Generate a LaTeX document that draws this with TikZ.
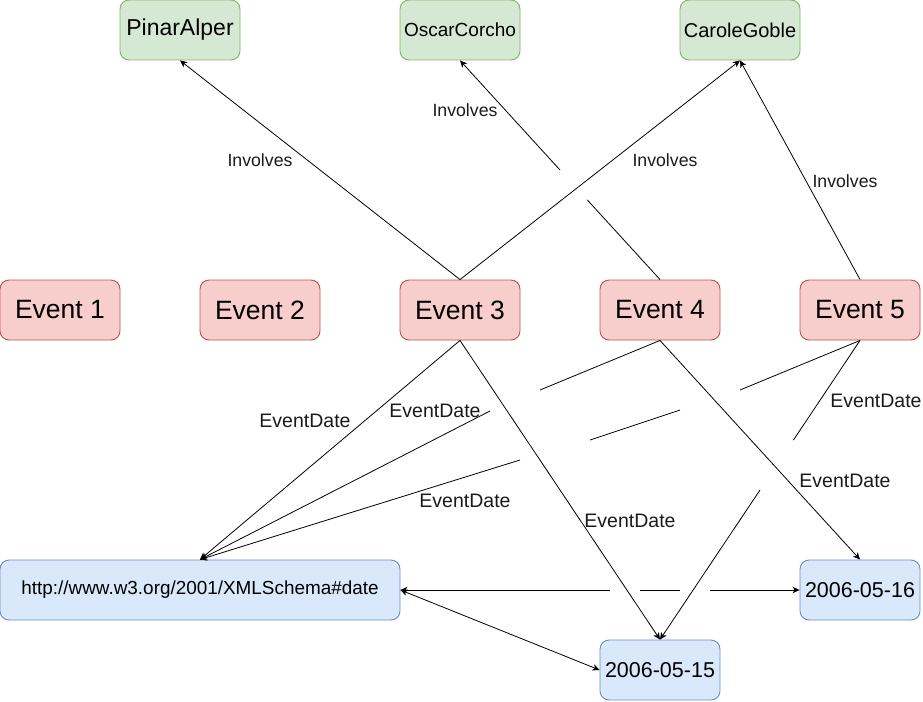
\documentclass[tikz,border=0pt]{standalone}
\usepackage{fontspec}
\setmainfont{Liberation Sans}
\usetikzlibrary{arrows.meta,calc}
\definecolor{gfill}{HTML}{D5E8D4}
\definecolor{gline}{HTML}{82B366}
\definecolor{rfill}{HTML}{F8CECC}
\definecolor{rline}{HTML}{B85450}
\definecolor{bfill}{HTML}{DAE8FC}
\definecolor{bline}{HTML}{6C8EBF}
\definecolor{txt}{HTML}{1A1A1A}
\begin{document}
\begin{tikzpicture}[x=1pt,y=-1pt,
  box/.style={rectangle, rounded corners=9pt, minimum width=120pt, minimum height=60pt, inner sep=0pt, line width=0.9pt, anchor=center, text=black},
  person/.style={box, fill=gfill, draw=gline},
  eventbox/.style={box, fill=rfill, draw=rline, font=\fontsize{26.5}{30}\selectfont},
  datebox/.style={box, fill=bfill, draw=bline},
  lbl/.style={font=\fontsize{19.5}{23}\selectfont, inner sep=0pt, text=txt},
  invl/.style={font=\fontsize{17.7}{21}\selectfont, inner sep=0pt, text=txt},
  edgeline/.style={line width=0.8pt},
  arr/.style={edgeline, -{Stealth[length=7pt,width=6.5pt,inset=2pt]}},
  biarr/.style={edgeline, {Stealth[length=7pt,width=6.5pt,inset=2pt]}-{Stealth[length=7pt,width=6.5pt,inset=2pt]}},
  larr/.style={edgeline, {Stealth[length=7pt,width=6.5pt,inset=2pt]}-}
]
\useasboundingbox (0,0) rectangle (923,701);

% people
\node[person, font=\fontsize{23}{27}\selectfont] (pa) at (180,30) {PinarAlper};
\node[person, font=\fontsize{19}{23}\selectfont] (oc) at (460,30) {OscarCorcho};
\node[person, font=\fontsize{20}{24}\selectfont] (cg) at (740,30) {CaroleGoble};

% events
\node[eventbox] (e1) at (60,310) {Event 1};
\node[eventbox] (e2) at (260,310) {Event 2};
\node[eventbox] (e3) at (460,310) {Event 3};
\node[eventbox] (e4) at (660,310) {Event 4};
\node[eventbox] (e5) at (860,310) {Event 5};

% dates
\node[datebox, minimum width=400pt, font=\fontsize{18.9}{23}\selectfont] (xml) at (200,590) {http://www.w3.org/2001/XMLSchema\#date};
\node[datebox, font=\fontsize{21.5}{25}\selectfont] (d16) at (860,590) {2006-05-16};
\node[datebox, font=\fontsize{21.5}{25}\selectfont] (d15) at (660,670) {2006-05-15};

% bend / gap coordinates
\coordinate (g4a) at (540,390);
\coordinate (g4b) at (490,411);
\coordinate (g5a) at (740,390);
\coordinate (g5b) at (680,410);
\coordinate (g5c) at (590,440);
\coordinate (g5d) at (520,460);

% Involves edges
\draw[arr] (e3.north) -- (pa.south);
\draw[edgeline] (e4.north) -- ($(e4.north)!0.364!(oc.south)$);
\draw[arr] ($(e4.north)!0.5!(oc.south)$) -- (oc.south);
\draw[arr] (e3.north) -- (cg.south);
\draw[arr] (e5.north) -- (cg.south);

% EventDate edges
\draw[arr] (e3.south) -- (xml.north);
\draw[edgeline] (e4.south) -- (g4a);
\draw[arr] (g4b) -- (xml.north);
\draw[edgeline] (e5.south) -- (g5a);
\draw[edgeline] (g5b) -- (g5c);
\draw[arr] (g5d) -- (xml.north);
\draw[arr] (e3.south) -- (d15.north);
\draw[edgeline] (e5.south) -- ($(e5.south)!0.333!(d15.north)$);
\draw[arr] ($(e5.south)!0.5!(d15.north)$) -- (d15.north);
\draw[arr] (e4.south) -- (d16.north);

% date links
\draw[larr] (xml.east) -- ($(xml.east)!0.525!(d16.west)$);
\draw[edgeline] ($(xml.east)!0.6!(d16.west)$) -- ($(xml.east)!0.7!(d16.west)$);
\draw[arr] ($(xml.east)!0.775!(d16.west)$) -- (d16.west);
\draw[biarr] (xml.east) -- (d15.west);

% labels
\node[invl] (li1) at (260,160) {Involves};
\node[invl] (li2) at (465,110) {Involves};
\node[invl] (li3) at (665,160) {Involves};
\node[invl] (li4) at (845,181) {Involves};
\node[lbl] (ld1) at (305,421) {EventDate};
\node[lbl] (ld2) at (435,411) {EventDate};
\node[lbl] (ld3) at (465,501) {EventDate};
\node[lbl] (ld4) at (876,401) {EventDate};
\node[lbl] (ld5) at (845,481) {EventDate};
\node[lbl] (ld6) at (630,521) {EventDate};
\end{tikzpicture}
\end{document}
